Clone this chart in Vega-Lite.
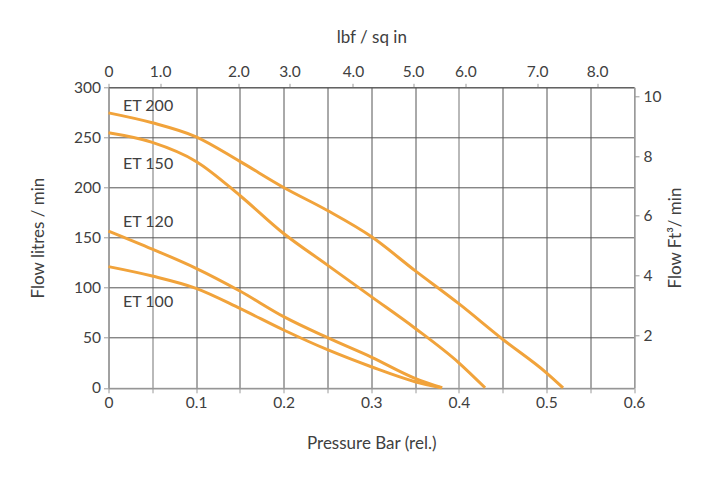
{
  "$schema": "https://vega.github.io/schema/vega-lite/v6.json",
  "autosize": "none",
  "width": 525.5,
  "height": 300.5,
  "padding": {"left": 108.5, "top": 87.3, "right": 87, "bottom": 98.2},
  "background": "white",
  "config": {
    "font": "Lato",
    "view": {"stroke": null},
    "axis": {
      "labelFont": "Lato", "titleFont": "Lato",
      "labelFontSize": 15.5, "titleFontSize": 17,
      "labelColor": "#404040", "titleColor": "#404040",
      "titleFontWeight": "normal",
      "domainColor": "#9a9a9a", "tickColor": "#9a9a9a",
      "tickSize": 5, "labelPadding": 3
    }
  },
  "datasets": {
    "curves": [
      {"model": "ET 200", "bar": 0, "flow": 274.5},
      {"model": "ET 200", "bar": 0.05, "flow": 264.6},
      {"model": "ET 200", "bar": 0.1, "flow": 250.6},
      {"model": "ET 200", "bar": 0.15, "flow": 226},
      {"model": "ET 200", "bar": 0.2, "flow": 200},
      {"model": "ET 200", "bar": 0.25, "flow": 177},
      {"model": "ET 200", "bar": 0.3, "flow": 151},
      {"model": "ET 200", "bar": 0.35, "flow": 117},
      {"model": "ET 200", "bar": 0.4, "flow": 84},
      {"model": "ET 200", "bar": 0.45, "flow": 48.5},
      {"model": "ET 200", "bar": 0.5, "flow": 15},
      {"model": "ET 200", "bar": 0.519, "flow": 0},
      {"model": "ET 150", "bar": 0, "flow": 254.6},
      {"model": "ET 150", "bar": 0.05, "flow": 245},
      {"model": "ET 150", "bar": 0.1, "flow": 226},
      {"model": "ET 150", "bar": 0.15, "flow": 192},
      {"model": "ET 150", "bar": 0.2, "flow": 154},
      {"model": "ET 150", "bar": 0.25, "flow": 122.5},
      {"model": "ET 150", "bar": 0.3, "flow": 91},
      {"model": "ET 150", "bar": 0.35, "flow": 59.5},
      {"model": "ET 150", "bar": 0.4, "flow": 25},
      {"model": "ET 150", "bar": 0.43, "flow": 0},
      {"model": "ET 120", "bar": 0, "flow": 156.5},
      {"model": "ET 120", "bar": 0.05, "flow": 138.5},
      {"model": "ET 120", "bar": 0.1, "flow": 119.3},
      {"model": "ET 120", "bar": 0.15, "flow": 96.6},
      {"model": "ET 120", "bar": 0.2, "flow": 71},
      {"model": "ET 120", "bar": 0.25, "flow": 50},
      {"model": "ET 120", "bar": 0.3, "flow": 30.7},
      {"model": "ET 120", "bar": 0.35, "flow": 9.5},
      {"model": "ET 120", "bar": 0.381, "flow": 0},
      {"model": "ET 100", "bar": 0, "flow": 121},
      {"model": "ET 100", "bar": 0.05, "flow": 111.6},
      {"model": "ET 100", "bar": 0.1, "flow": 99.3},
      {"model": "ET 100", "bar": 0.15, "flow": 79.3},
      {"model": "ET 100", "bar": 0.2, "flow": 57.7},
      {"model": "ET 100", "bar": 0.25, "flow": 38},
      {"model": "ET 100", "bar": 0.3, "flow": 21},
      {"model": "ET 100", "bar": 0.35, "flow": 6.1},
      {"model": "ET 100", "bar": 0.38, "flow": 0}
    ],
    "labels": [
      {"model": "ET 200", "bar": 0.0166, "flow": 281.2},
      {"model": "ET 150", "bar": 0.0166, "flow": 223},
      {"model": "ET 120", "bar": 0.0166, "flow": 165.2},
      {"model": "ET 100", "bar": 0.0166, "flow": 85.9}
    ]
  },
  "resolve": {"axis": {"x": "independent", "y": "independent"}},
  "layer": [
    {
      "data": {"name": "curves"},
      "mark": {"type": "line", "interpolate": "monotone", "color": "#F1A33B", "strokeWidth": 3},
      "encoding": {
        "x": {
          "field": "bar", "type": "quantitative",
          "scale": {"domain": [0, 0.6], "nice": false, "zero": false},
          "axis": {
            "orient": "bottom", "title": "Pressure Bar (rel.)",
            "values": [0, 0.05, 0.1, 0.15, 0.2, 0.25, 0.3, 0.35, 0.4, 0.45, 0.5, 0.55, 0.6],
            "labelExpr": "datum.value == 0 ? '0' : (round(datum.value * 100) % 10 == 0 ? format(datum.value, '.1f') : '')",
            "grid": true,
            "gridColor": {"condition": {"test": "datum.value == 0.05 || datum.value == 0.4 || datum.value == 0.6", "value": "#a8a8a8"}, "value": "#555555"},
            "gridWidth": {"condition": {"test": "datum.value == 0.05 || datum.value == 0.4 || datum.value == 0.6", "value": 1.6}, "value": 1},
            "titlePadding": 24, "labelFlush": false, "labelOverlap": false
          }
        },
        "y": {
          "field": "flow", "type": "quantitative",
          "scale": {"domain": [0, 300], "nice": false, "zero": false},
          "axis": {
            "orient": "left", "title": "Flow litres / min",
            "values": [0, 50, 100, 150, 200, 250, 300],
            "grid": true, "gridColor": "#555555",
            "titlePadding": 26, "labelFlush": false
          }
        },
        "detail": {"field": "model", "type": "nominal"}
      }
    },
    {
      "data": {"name": "labels"},
      "mark": {"type": "text", "align": "left", "baseline": "middle", "fontSize": 16, "color": "#404040", "font": "Lato"},
      "encoding": {
        "x": {
          "field": "bar", "type": "quantitative",
          "axis": {
            "orient": "top", "title": "lbf / sq in",
            "values": [0, 0.0589, 0.1483, 0.2066, 0.2791, 0.3477, 0.4074, 0.4894, 0.5579],
            "labelExpr": "datum.value == 0 ? '0' : format(round(datum.value * 14.5), '.1f')",
            "grid": false, "tickSize": 4, "labelPadding": 4,
            "titlePadding": 18, "labelFlush": false, "labelOverlap": false, "domainColor": "#555555"
          }
        },
        "y": {
          "field": "flow", "type": "quantitative",
          "axis": {
            "orient": "right", "title": "Flow  Ft³/ min", "titleAngle": -90,
            "values": [52.7, 112.6, 172.4, 231.3, 291.2],
            "labelExpr": "format(round(datum.value / 28.8), 'd')",
            "grid": false, "labelPadding": 4, "titlePadding": 24, "labelFlush": false
          }
        },
        "text": {"field": "model", "type": "nominal"}
      }
    }
  ]
}
